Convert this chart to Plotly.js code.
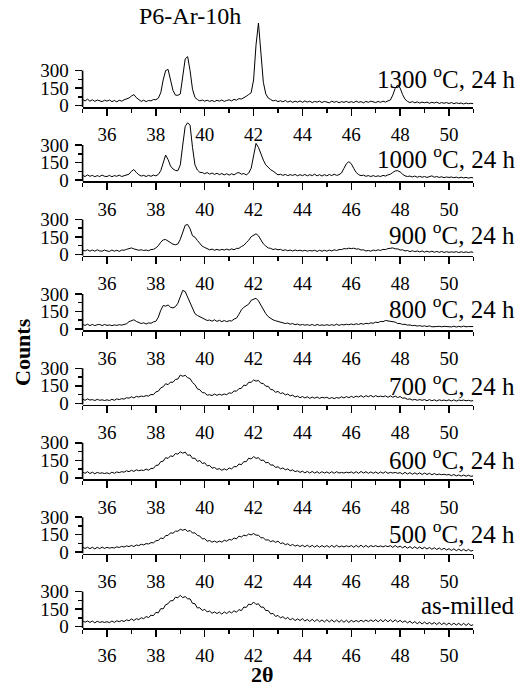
<!DOCTYPE html>
<html><head><meta charset="utf-8">
<script src="https://cdn.plot.ly/plotly-3.0.1.min.js"></script>
<style>html,body{margin:0;padding:0;background:#fff}</style>
</head><body><div id="chart" style="width:523px;height:698px"></div>
<script>
const twoTheta = [
35.0,35.1,35.2,35.3,35.4,35.5,35.6,35.7,35.8,35.9,
36.0,36.1,36.2,36.3,36.4,36.5,36.6,36.7,36.8,36.9,
37.0,37.1,37.2,37.3,37.4,37.5,37.6,37.7,37.8,37.9,
38.0,38.1,38.2,38.3,38.4,38.5,38.6,38.7,38.8,38.9,
39.0,39.1,39.2,39.3,39.4,39.5,39.6,39.7,39.8,39.9,
40.0,40.1,40.2,40.3,40.4,40.5,40.6,40.7,40.8,40.9,
41.0,41.1,41.2,41.3,41.4,41.5,41.6,41.7,41.8,41.9,
42.0,42.1,42.2,42.3,42.4,42.5,42.6,42.7,42.8,42.9,
43.0,43.1,43.2,43.3,43.4,43.5,43.6,43.7,43.8,43.9,
44.0,44.1,44.2,44.3,44.4,44.5,44.6,44.7,44.8,44.9,
45.0,45.1,45.2,45.3,45.4,45.5,45.6,45.7,45.8,45.9,
46.0,46.1,46.2,46.3,46.4,46.5,46.6,46.7,46.8,46.9,
47.0,47.1,47.2,47.3,47.4,47.5,47.6,47.7,47.8,47.9,
48.0,48.1,48.2,48.3,48.4,48.5,48.6,48.7,48.8,48.9,
49.0,49.1,49.2,49.3,49.4,49.5,49.6,49.7,49.8,49.9,
50.0,50.1,50.2,50.3,50.4,50.5,50.6,50.7,50.8,50.9,
51.0];

const counts1300 = [
52,40,55,38,50,36,48,42,34,46,
38,48,34,44,32,46,38,50,55,65,
82,94,68,48,36,46,34,44,40,52,
50,64,110,220,300,310,220,130,90,88,
100,250,400,420,300,140,70,52,40,48,
38,46,36,44,34,46,38,48,36,44,
50,40,54,46,60,56,72,80,95,110,
220,520,708,450,200,100,65,52,40,46,
34,42,32,44,30,40,28,38,30,40,
28,40,30,38,26,36,30,38,26,36,
30,24,38,28,36,24,34,28,36,26,
34,26,38,28,34,24,36,28,38,30,
26,36,28,38,30,40,48,90,150,177,
150,95,55,36,26,34,24,32,22,30,
24,30,20,28,22,30,18,26,20,26,
18,26,16,24,18,22,14,22,16,20,
16];

const counts1000 = [
40,30,44,32,40,28,38,30,42,32,
30,40,28,38,32,42,30,38,44,50,
75,90,65,45,34,40,30,40,32,42,
36,48,80,150,214,175,120,95,82,80,
130,300,460,491,470,280,130,86,66,64,
54,64,50,60,48,58,46,56,44,54,
42,54,44,58,64,50,56,44,60,100,
200,314,280,220,171,130,105,88,76,62,
44,50,40,48,38,46,40,48,36,46,
38,48,36,46,38,50,36,46,34,46,
36,48,38,50,40,46,60,100,140,157,
140,100,65,46,38,42,32,38,30,38,
30,36,30,40,34,44,50,65,78,80,
70,50,36,30,34,26,34,24,32,24,
30,22,30,36,24,30,22,28,20,26,
22,26,20,25,18,24,18,23,16,22,
18];

const counts900 = [
38,30,40,28,38,28,40,30,28,38,
30,26,38,28,36,26,38,36,44,48,
56,48,44,36,40,34,38,32,42,44,
56,75,105,125,128,115,100,88,83,90,
130,200,250,257,220,160,148,120,90,70,
60,52,40,46,36,44,36,44,38,46,
38,48,40,52,52,68,78,102,122,152,
168,177,160,120,91,72,56,52,42,48,
40,44,34,40,32,38,30,38,32,36,
30,36,28,34,30,36,26,36,28,36,
28,38,30,40,34,42,42,50,48,54,
50,54,46,48,38,40,30,34,28,38,
32,40,34,44,42,50,50,56,48,48,
38,40,30,34,24,32,24,30,22,30,
20,28,20,28,19,26,18,26,17,24,
18,22,19,24,16,23,17,22,16,22,
18];

const counts800 = [
38,30,40,28,38,28,36,38,28,38,
30,34,28,34,30,36,32,40,44,62,
70,78,64,58,46,52,42,52,48,60,
65,100,160,200,195,205,185,180,190,220,
270,330,320,270,220,170,130,115,106,95,
82,72,76,66,78,64,74,62,72,62,
70,68,84,92,125,163,185,200,212,245,
255,263,240,200,163,130,105,90,77,70,
64,54,54,46,50,40,46,36,42,32,
38,32,36,30,38,28,38,30,34,30,
36,30,36,30,40,30,38,34,40,36,
42,36,44,38,46,40,48,44,52,48,
58,54,64,62,72,68,70,60,58,46,
46,38,40,32,34,28,30,24,28,22,
26,20,26,18,22,20,22,18,22,19,
22,17,23,16,22,17,24,18,20,19,
20];

const counts700 = [
36,26,38,28,32,24,34,26,30,24,
30,24,34,26,38,32,40,36,48,44,
56,46,60,54,62,58,66,62,76,74,
98,104,132,142,168,160,182,180,205,208,
242,232,240,220,212,178,160,124,116,92,
90,70,74,66,80,68,78,70,80,74,
90,86,106,104,126,128,156,152,180,180,
200,190,196,172,170,146,146,118,116,94,
102,84,90,72,80,64,70,54,62,48,
58,46,56,42,54,44,54,42,52,46,
52,40,50,40,50,44,56,46,58,48,
60,50,62,54,66,52,66,56,68,54,
66,56,62,56,64,52,64,52,62,50,
58,44,46,34,38,28,34,26,32,26,
32,22,32,22,30,20,30,24,28,22,
30,20,30,19,28,24,28,22,26,20,
24];

const counts600 = [
50,38,52,36,48,34,46,38,42,36,
42,34,48,38,50,44,52,48,60,52,
64,54,68,60,66,62,74,64,80,80,
106,108,138,142,172,166,188,182,208,202,
222,210,220,192,196,166,168,140,148,122,
128,102,106,82,88,72,78,64,76,66,
84,76,96,94,118,112,138,138,168,160,
182,166,172,148,152,128,132,108,110,88,
94,76,84,68,76,60,68,52,60,46,
56,42,54,40,54,40,52,38,52,40,
50,38,52,38,52,40,46,40,48,42,
50,38,52,38,54,40,52,38,50,38,
50,36,50,38,52,38,46,40,46,38,
44,32,46,32,44,30,42,30,42,28,
40,28,38,26,36,26,32,26,30,24,
28,18,28,16,24,14,24,13,22,12,
17];

const counts500 = [
44,32,42,30,42,28,42,30,44,32,
42,34,40,36,46,40,50,44,54,48,
58,48,62,56,68,62,74,70,82,80,
98,100,122,116,142,144,166,162,180,180,
196,188,196,178,186,164,166,144,138,114,
116,94,100,86,95,84,95,86,102,94,
110,104,122,114,138,130,146,140,156,148,
160,146,146,124,123,104,106,90,98,84,
95,74,80,64,72,56,66,52,61,48,
60,46,60,44,59,43,58,42,57,44,
57,42,58,43,59,44,53,45,55,46,
57,42,58,44,60,43,58,42,57,47,
56,46,54,45,55,47,56,41,57,42,
52,37,51,34,48,32,46,31,45,29,
42,27,41,25,38,23,36,21,34,19,
30,15,29,13,26,12,25,10,24,9,
17];

const countsAsMilled = [
50,38,48,36,48,32,46,36,42,36,
42,34,48,36,50,42,52,44,58,50,
66,52,68,60,76,68,86,78,98,94,
122,118,154,152,188,196,222,222,252,248,
268,248,258,238,238,200,196,160,162,138,
148,126,134,114,126,112,125,107,126,112,
130,117,136,123,146,137,168,164,193,187,
211,190,196,166,168,137,138,109,113,87,
96,74,86,66,78,58,70,52,66,52,
68,48,62,44,63,43,61,42,57,40,
59,40,58,39,57,38,56,37,55,36,
54,40,53,41,55,42,56,43,57,44,
59,41,60,42,61,41,59,40,58,39,
54,36,50,32,46,28,43,25,40,23,
39,22,36,21,35,18,35,17,32,15,
31,14,29,14,28,11,28,10,27,9,
17];

const panelSeries = [counts1300, counts1000, counts900, counts800, counts700, counts600, counts500, countsAsMilled];
const panelLabels = ['1300 <sup>o</sup>C, 24 h','1000 <sup>o</sup>C, 24 h','900 <sup>o</sup>C, 24 h','800 <sup>o</sup>C, 24 h','700 <sup>o</sup>C, 24 h','600 <sup>o</sup>C, 24 h','500 <sup>o</sup>C, 24 h','as-milled'];
const yTickVals = [0, 150, 300];
const yMinorVals = [75, 225];
const sampleTitle = 'P6-Ar-10h';

const W = 523, H = 698;
const FONT = '"Liberation Serif", "Times New Roman", Times, serif';
const xDom = [82.6 / W, 473.4 / W];
const kPx = 35 / 300;       // px per count
const panelH = 95;          // px domain height
const yMin = -12;
const yMax = yMin + panelH / kPx;
const labelOffsets = [30, 24, 23, 23, 21, 21, 21.5, 23];

const data = [], layout = {
  width: W, height: H, autosize: false,
  margin: {l: 0, r: 0, t: 0, b: 0},
  paper_bgcolor: '#fff', plot_bgcolor: 'rgba(0,0,0,0)',
  font: {family: FONT, color: '#000'},
  showlegend: false, shapes: [], annotations: []
};
const tickFont = {family: FONT, size: 19, color: '#000'};

panelSeries.forEach((ys, i) => {
  const n = i + 1, sfx = n === 1 ? '' : String(n);
  const L = 107 + 74.43 * i;
  const bottom = 1 - L / H, top = 1 - (L - panelH) / H;
  data.push({x: twoTheta, y: ys, type: 'scatter', mode: 'lines',
    xaxis: 'x' + sfx, yaxis: 'y' + sfx, line: {color: '#000', width: 1}, hoverinfo: 'skip'});
  layout['xaxis' + sfx] = {
    domain: xDom, anchor: 'y' + sfx, range: [35, 51],
    showgrid: false, zeroline: false, showline: true, linecolor: '#000', linewidth: 1.6,
    tickmode: 'linear', tick0: 36, dtick: 2, ticks: 'outside', ticklen: 7, tickwidth: 1.5, tickcolor: '#000',
    minor: {tickmode: 'linear', tick0: 35, dtick: 1, ticks: 'outside', ticklen: 4, tickwidth: 1.5, tickcolor: '#000', showgrid: false},
    tickfont: tickFont, ticklabelstandoff: 3, fixedrange: true
  };
  layout['yaxis' + sfx] = {
    domain: [bottom, top], anchor: 'x' + sfx, range: [yMin, yMax],
    showgrid: false, zeroline: false, showline: false,
    tickmode: 'array', tickvals: yTickVals, ticktext: yTickVals.map(String),
    ticks: 'outside', ticklen: 7, tickwidth: 1.5, tickcolor: '#000',
    minor: {tickmode: 'array', tickvals: yMinorVals, ticks: 'outside', ticklen: 4, tickwidth: 1.5, tickcolor: '#000', showgrid: false},
    tickfont: tickFont, ticklabelstandoff: 2, fixedrange: true
  };
  layout.shapes.push({type: 'line', xref: 'paper', yref: 'y' + sfx,
    x0: xDom[0], x1: xDom[0], y0: yMin, y1: 300, line: {color: '#000', width: 1.6}});
  layout.annotations.push({xref: 'paper', yref: 'paper', x: 517 / W, y: 1 - (L - labelOffsets[i]) / H,
    xanchor: 'right', yanchor: 'middle', showarrow: false, text: panelLabels[i],
    font: {family: FONT, size: 25, color: '#000'}});
});

layout.annotations.push({xref: 'paper', yref: 'paper', x: 190 / W, y: 1 - 16 / H,
  xanchor: 'center', yanchor: 'middle', showarrow: false, text: sampleTitle,
  font: {family: FONT, size: 24, color: '#000'}});
layout.annotations.push({xref: 'paper', yref: 'paper', x: 22 / W, y: 1 - 352 / H,
  xanchor: 'center', yanchor: 'middle', showarrow: false, text: '<b>Counts</b>', textangle: -90,
  font: {family: FONT, size: 22, color: '#000'}});
layout.annotations.push({xref: 'paper', yref: 'paper', x: 262 / W, y: 1 - 674 / H,
  xanchor: 'center', yanchor: 'middle', showarrow: false, text: '<b>2θ</b>',
  font: {family: FONT, size: 22, color: '#000'}});

Plotly.newPlot('chart', data, layout, {staticPlot: true, displayModeBar: false});
</script></body></html>
